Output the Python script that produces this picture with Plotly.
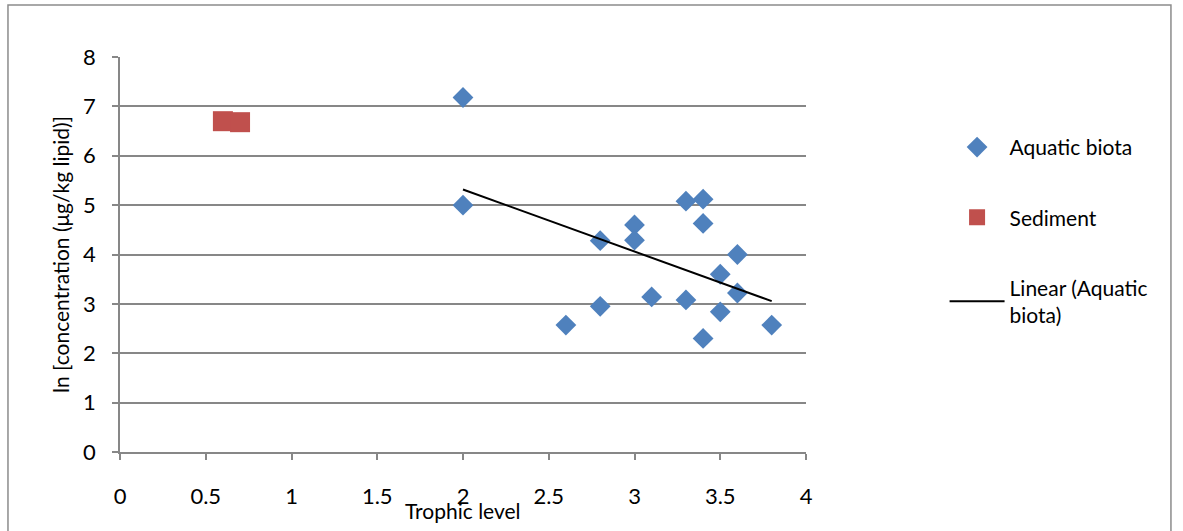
import numpy as np
import plotly.graph_objects as go

# Data
biota_trophic = [2.0, 2.0, 2.6, 2.8, 2.8, 3.0, 3.0, 3.1, 3.3, 3.3, 3.4, 3.4, 3.4, 3.5, 3.5, 3.6, 3.6, 3.8]
biota_ln_conc = [7.18, 5.00, 2.57, 4.28, 2.95, 4.60, 4.29, 3.14, 5.08, 3.08, 5.12, 4.63, 2.30, 3.60, 2.84, 4.00, 3.22, 2.57]
sediment_trophic = [0.6, 0.7]
sediment_ln_conc = [6.70, 6.68]

x_ticks = [0, 0.5, 1, 1.5, 2, 2.5, 3, 3.5, 4]
x_tick_labels = ["0", "0.5", "1", "1.5", "2", "2.5", "3", "3.5", "4"]
y_ticks = [0, 1, 2, 3, 4, 5, 6, 7, 8]

# Linear trend of aquatic biota
slope, intercept = np.polyfit(biota_trophic, biota_ln_conc, 1)
trend_x = [min(biota_trophic), max(biota_trophic)]
trend_y = [slope * v + intercept for v in trend_x]

FONT = "Lato"
GRID = "#878787"

fig = go.Figure()
fig.add_trace(go.Scatter(
    x=biota_trophic, y=biota_ln_conc, mode="markers", name="Aquatic biota",
    legendgroup="a",
    marker=dict(symbol="diamond", size=16, color="#4F81BD", line=dict(width=0)),
))
fig.add_trace(go.Scatter(
    x=sediment_trophic, y=sediment_ln_conc, mode="markers", name="Sediment",
    legendgroup="b",
    marker=dict(symbol="square", size=20, color="#C0504D", line=dict(width=0)),
))
fig.add_trace(go.Scatter(
    x=trend_x, y=trend_y, mode="lines", name="Linear (Aquatic<br>biota)",
    legendgroup="c",
    line=dict(color="black", width=2),
))

# outer chart border
fig.add_shape(type="rect", xref="paper", yref="paper",
              x0=-0.1633, x1=1.532, y0=-0.25, y1=1.1316,
              line=dict(color="#8c8c8c", width=1.5), layer="below")

# x-axis title placed as in the reference (overlapping the tick labels slightly)
fig.add_annotation(text="Trophic level", xref="paper", yref="paper",
                   x=0.5, y=-0.149, xanchor="center", yanchor="middle",
                   showarrow=False, font=dict(family=FONT, size=21, color="black"))

fig.update_layout(
    width=1183, height=531,
    margin=dict(l=120, r=377, t=57, b=79),
    paper_bgcolor="white", plot_bgcolor="white",
    font=dict(family=FONT, size=21, color="black"),
    showlegend=True,
    legend=dict(
        x=1.202, xanchor="left", y=0.823, yanchor="top",
        font=dict(family=FONT, size=21, color="black"),
        itemwidth=55, tracegroupgap=40, bgcolor="rgba(0,0,0,0)",
    ),
    xaxis=dict(
        range=[0, 4], tickvals=x_ticks, ticktext=x_tick_labels,
        showgrid=False, zeroline=False,
        showline=True, linecolor=GRID, linewidth=1.5,
        ticks="outside", ticklen=6, tickcolor=GRID, tickwidth=1.5,
        ticklabelstandoff=18,
        tickfont=dict(family=FONT, size=22),
        automargin=False,
    ),
    yaxis=dict(
        range=[0, 8], tickvals=y_ticks,
        showgrid=True, gridcolor=GRID, gridwidth=1.5,
        zeroline=False,
        showline=True, linecolor=GRID, linewidth=1.5,
        ticks="outside", ticklen=6, tickcolor=GRID, tickwidth=1.5,
        ticklabelstandoff=12,
        tickfont=dict(family=FONT, size=22),
        title=dict(text="ln [concentration (μg/kg lipid)]", standoff=8, font=dict(family=FONT, size=21)),
        automargin=False,
    ),
)

fig.write_html("out.html",
               config={"displayModeBar": False},
               post_script="document.body.style.margin='0';document.body.style.overflow='hidden';")
